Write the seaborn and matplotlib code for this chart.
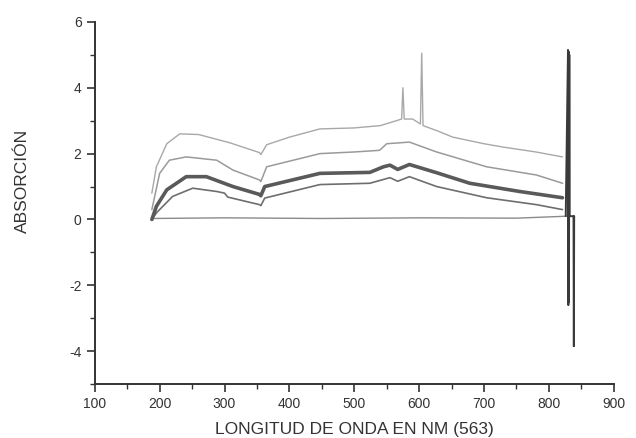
import matplotlib
matplotlib.use("Agg")
import matplotlib.pyplot as plt
import seaborn as sns
import pandas as pd
from matplotlib.ticker import MultipleLocator

# ---- data ----
wl_top = [188, 195, 211, 231, 260, 308, 354, 356, 365, 400, 447, 500, 540, 565,
          573, 575, 577, 590, 602, 604, 606, 627, 652, 700, 729, 780, 821]
ab_top = [0.8, 1.6, 2.3, 2.6, 2.58, 2.33, 2.03, 1.97, 2.27, 2.5, 2.75, 2.78, 2.85, 3.0,
          3.05, 4.0, 3.05, 3.05, 2.9, 5.05, 2.85, 2.7, 2.5, 2.3, 2.2, 2.05, 1.9]

wl_2 = [188, 200, 215, 241, 288, 313, 354, 356, 365, 447, 500, 539, 550, 585, 627, 704, 781, 821]
ab_2 = [0.3, 1.4, 1.8, 1.9, 1.8, 1.5, 1.2, 1.15, 1.6, 2.0, 2.05, 2.1, 2.3, 2.35, 2.05, 1.6, 1.35, 1.1]

wl_3 = [188, 195, 211, 241, 272, 313, 354, 356, 362, 447, 524, 545, 555, 567, 585, 627, 678, 755, 821]
ab_3 = [0.0, 0.4, 0.9, 1.3, 1.3, 1.0, 0.76, 0.72, 1.0, 1.4, 1.43, 1.6, 1.65, 1.52, 1.67, 1.42, 1.1, 0.85, 0.66]

wl_4 = [188, 195, 220, 251, 288, 300, 305, 354, 356, 362, 447, 524, 555, 567, 585, 627, 704, 781, 821]
ab_4 = [0.0, 0.2, 0.7, 0.95, 0.85, 0.8, 0.68, 0.45, 0.42, 0.65, 1.06, 1.1, 1.27, 1.16, 1.3, 1.0, 0.66, 0.45, 0.3]

wl_base = [188, 300, 450, 600, 750, 828]
ab_base = [0.03, 0.05, 0.03, 0.05, 0.04, 0.1]

wl_spike = [826, 829.5, 830, 830.5, 831, 831.5, 832, 838, 838.5, 839]
ab_spike = [0.1, 5.15, -2.6, 5.1, -2.5, 5.0, 0.1, 0.1, -3.85, 0.1]

x_ticks = [100, 200, 300, 400, 500, 600, 700, 800, 900]
y_ticks = [-4, -2, 0, 2, 4, 6]

# ---- plot ----
sns.set_style("ticks")
plt.rcParams['font.family'] = ['Liberation Sans', 'DejaVu Sans']
plt.rcParams['axes.unicode_minus'] = False

fig = plt.figure(figsize=(6.36, 4.38), dpi=100)
ax = fig.add_axes([0.149, 0.123, 0.816, 0.827])

series = [
    (wl_base, ab_base, "#8a8a8a", 1.0),
    (wl_top, ab_top, "#a8a8a8", 1.0),
    (wl_2, ab_2, "#9a9a9a", 1.1),
    (wl_4, ab_4, "#6e6e6e", 1.2),
    (wl_3, ab_3, "#5a5a5a", 2.6),
    (wl_spike, ab_spike, "#3a3a3a", 1.4),
]
for xs, ys, col, lw in series:
    df = pd.DataFrame({"wl": xs, "ab": ys})
    sns.lineplot(data=df, x="wl", y="ab", ax=ax, color=col, linewidth=lw,
                 sort=False, estimator=None)

ax.set_xlim(100, 900)
ax.set_ylim(-5, 6)
ax.set_xticks(x_ticks)
ax.set_yticks(y_ticks)
ax.xaxis.set_minor_locator(MultipleLocator(50))
ax.yaxis.set_minor_locator(MultipleLocator(1))
ax.tick_params(which="major", direction="out", length=6, width=1.2, color="#333333",
               labelsize=10, labelcolor="#333333")
ax.tick_params(which="minor", direction="out", length=3.5, width=1.0, color="#333333")

sns.despine(ax=ax)
for s in ("left", "bottom"):
    ax.spines[s].set_color("#333333")
    ax.spines[s].set_linewidth(1.4)

ax.set_xlabel("LONGITUD DE ONDA EN NM (563)", fontsize=12.5, color="#333333", labelpad=8)
ax.set_ylabel("ABSORCIÓN", fontsize=12.5, color="#333333")
ax.yaxis.set_label_coords(-0.125, 0.56)

fig.savefig("out.png", dpi=100)
